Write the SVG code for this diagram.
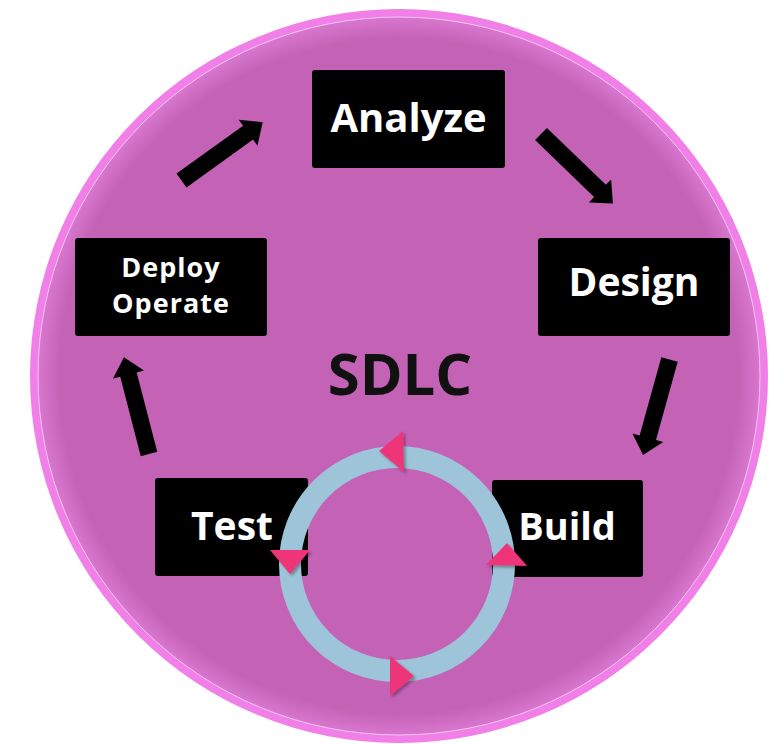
<svg xmlns="http://www.w3.org/2000/svg" width="781" height="744" viewBox="0 0 781 744">
  <defs>
    <radialGradient id="disc" cx="50%" cy="50%" r="50%">
      <stop offset="0" stop-color="#C462B6"/>
      <stop offset="0.94" stop-color="#C462B6"/>
      <stop offset="1" stop-color="#D877CE"/>
    </radialGradient>
    <filter id="sh" x="-30%" y="-30%" width="160%" height="160%">
      <feDropShadow dx="2" dy="2" stdDeviation="1.5" flood-color="#000" flood-opacity="0.35"/>
    </filter>
    <path id="arr" d="M0,-8.5 L82,-8.5 L82,-16 L100,0 L82,16 L82,8.5 L0,8.5 Z"/>
  </defs>
  <style>
    .box { fill: #000; }
    .lbl { fill: #fff; font-family: "Open Sans", "DejaVu Sans", sans-serif; font-weight: bold; text-anchor: middle; }
    .tri { fill: #EF3479; filter: url(#sh); }
    .conn { fill: #000; }
  </style>
  <rect width="781" height="744" fill="#fff"/>
  <g id="disc-bg">
    <ellipse cx="399" cy="376" rx="369" ry="367" fill="#F07FE8"/>
    <ellipse cx="399" cy="376" rx="361" ry="359" fill="url(#disc)" stroke="#F6C6F0" stroke-width="1"/>
  </g>
  <g id="connectors">
    <use href="#arr" class="conn" transform="translate(181.5,180.5) rotate(-35.7)"/>
    <use href="#arr" class="conn" transform="translate(541,134) rotate(44)"/>
    <use href="#arr" class="conn" transform="translate(669.5,359.5) rotate(105.5) scale(0.99,1)"/>
    <use href="#arr" class="conn" transform="translate(149,454) rotate(-104.5)"/>
  </g>
  <g id="node-analyze">
    <rect class="box" x="312" y="70" width="193" height="98" rx="3"/>
    <text class="lbl" x="408.5" y="132" font-size="40">Analyze</text>
  </g>
  <g id="node-design">
    <rect class="box" x="538" y="238" width="192" height="98" rx="3"/>
    <text class="lbl" x="634" y="296" font-size="39">Design</text>
  </g>
  <g id="node-deploy">
    <rect class="box" x="75" y="238" width="192" height="98" rx="3"/>
    <text class="lbl" x="171" y="277" font-size="27" letter-spacing="1">Deploy</text>
    <text class="lbl" x="171" y="313" font-size="27" letter-spacing="1">Operate</text>
  </g>
  <g id="node-test">
    <rect class="box" x="155" y="478" width="153" height="98" rx="3"/>
    <text class="lbl" x="232" y="540" font-size="39">Test</text>
  </g>
  <g id="node-build">
    <rect class="box" x="492" y="480" width="151" height="97" rx="3"/>
    <text class="lbl" x="567" y="540" font-size="38">Build</text>
  </g>
  <g id="title">
    <text x="400" y="395" font-family="'Open Sans', 'DejaVu Sans', sans-serif" font-weight="bold" font-size="58" text-anchor="middle" fill="#111">SDLC</text>
  </g>
  <g id="cycle">
    <circle cx="397" cy="564" r="107" fill="none" stroke="#9EC4D9" stroke-width="22"/>
    <polygon class="tri" points="379,451 403,431 404,472"/>
    <polygon class="tri" points="270,550 310,550 290,574"/>
    <polygon class="tri" points="486,565 527,566 507,543"/>
    <polygon class="tri" points="390,656 414,676 390,696"/>
  </g>
</svg>
